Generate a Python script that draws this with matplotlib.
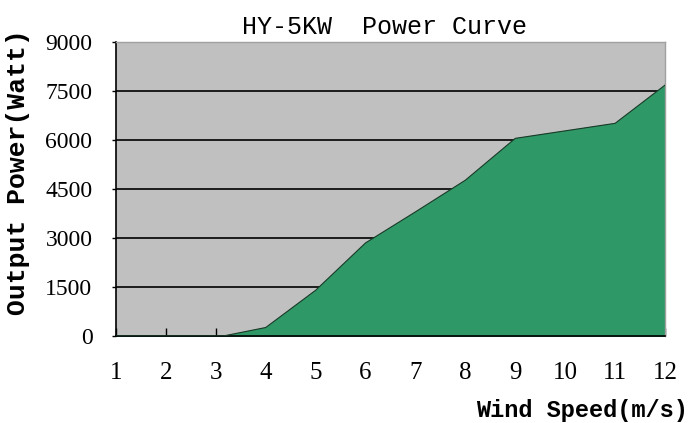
import matplotlib.pyplot as plt

# ===============================
# DATA
# ===============================
wind_speed = [1, 2, 3, 3.15, 4, 5, 6, 7, 8, 9, 10, 11, 12]
power = [0, 0, 0, 0, 260, 1400, 2850, 3800, 4770, 6050, 6280, 6510, 7680]
x_ticks = list(range(1, 13))
y_ticks = [0, 1500, 3000, 4500, 6000, 7500, 9000]

# ===============================
# PLOT
# ===============================
fig = plt.figure(figsize=(6.92, 4.23), dpi=100)
ax = fig.add_axes([116 / 692, 1 - 336 / 423, 549 / 692, 294 / 423])
ax.set_facecolor("#c0c0c0")

ax.fill_between(wind_speed, power, 0, color="#2e9866", zorder=2)
ax.plot(wind_speed, power, color="#1a3a28", linewidth=0.8, zorder=3)

for v in y_ticks[1:-1]:
    ax.axhline(v, color="black", linewidth=1.2, zorder=1)

ax.set_xlim(1, 12)
ax.set_ylim(0, 9000)
ax.set_xticks(x_ticks)
ax.set_yticks(y_ticks)
ax.set_xticklabels([str(v) for v in x_ticks], fontfamily="Liberation Serif", fontsize=18)
ax.set_yticklabels([str(v) for v in y_ticks], fontfamily="Liberation Serif", fontsize=17)
ax.tick_params(axis="x", direction="in", length=6, width=1, pad=19, colors="black")
ax.tick_params(axis="y", direction="out", length=3, width=1, pad=14, colors="black")

for s in ["top", "right"]:
    ax.spines[s].set_color("#a0a0a0")
    ax.spines[s].set_linewidth(1)
for s in ["left", "bottom"]:
    ax.spines[s].set_color("black")
    ax.spines[s].set_linewidth(1.2)

fig.text(385 / 692, 1 - 27 / 423, "HY-5KW  Power Curve", fontfamily="Liberation Mono",
         fontsize=18, ha="center", va="center")
fig.text(18 / 692, 1 - 172 / 423, "Output Power(Watt)", fontfamily="Liberation Mono",
         fontsize=19, fontweight="bold", rotation=90, ha="center", va="center")
fig.text(688 / 692, 1 - 410 / 423, "Wind Speed(m/s)", fontfamily="Liberation Mono",
         fontsize=17, fontweight="bold", ha="right", va="center")

plt.savefig("out.png", dpi=100)
